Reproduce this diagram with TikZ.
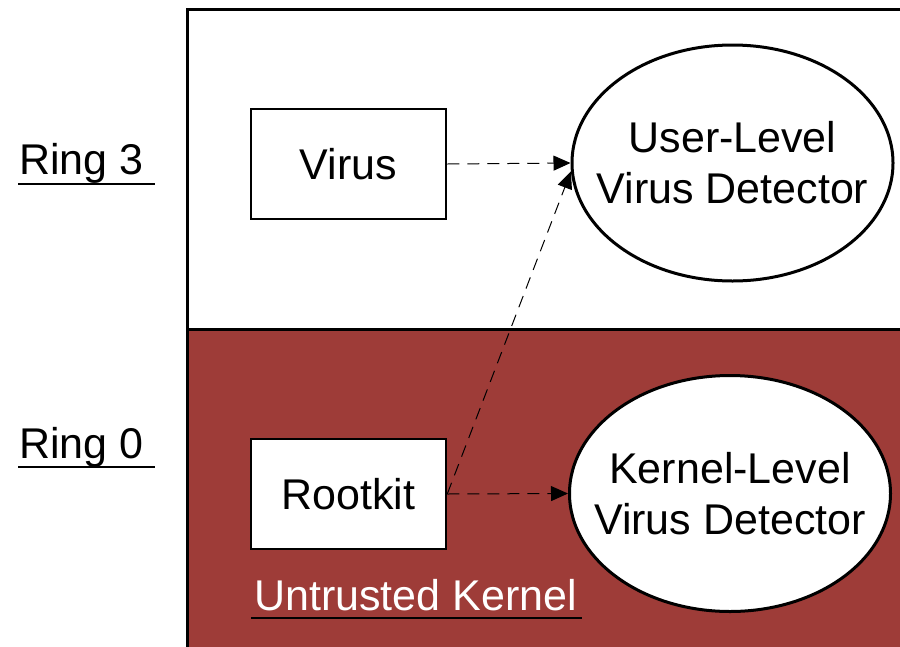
\documentclass[tikz,border=0pt]{standalone}
\usepackage{fontspec}
\setmainfont{Liberation Sans}
\usepackage{xcolor}
\usetikzlibrary{positioning,shapes,arrows.meta}
\definecolor{kernelred}{RGB}{158,60,56}

\begin{document}
\begin{tikzpicture}[x=1pt, y=-1pt, font=\fontsize{43}{51}\selectfont,
		box/.style={draw, line width=2.5pt, fill=white, minimum width=195pt, minimum height=110pt, inner sep=0pt},
		detector/.style={draw, ellipse, line width=3pt, fill=white, minimum width=321pt, minimum height=236pt, align=center, inner xsep=-40pt, inner ysep=0pt},
		ringlabel/.style={anchor=base west, inner sep=0pt},
		flow/.style={dash pattern=on 12pt off 8pt, line width=1pt, -{Triangle[length=17pt,width=15pt]}}]
			\useasboundingbox (0,0) rectangle (900,646);
			% kernel half
			\fill[kernelred] (187,329) rectangle (903,649);
			\draw[line width=3pt] (187,649) -- (187,9) -- (903,9);
			\draw[line width=3pt] (187,329) -- (903,329);
			% rings
			\node[ringlabel] (ring3) at (19,174) {Ring 3};
			\draw[line width=1.5pt] (18,184) -- (155,184);
			\node[ringlabel] (ring0) at (19,458) {Ring 0};
			\draw[line width=1.5pt] (18,467) -- (155,467);
			\node[ringlabel, text=white] (untrusted) at (254,610) {Untrusted Kernel};
			\draw[line width=1.5pt] (251,618) -- (582,618);
			% boxes
			\node[box] (virus) at (348.5,164) {Virus};
			\node[box] (rootkit) at (348.5,494) {Rootkit};
			\node[detector] (userdet) at (732.5,163) {User-Level\\Virus Detector};
			\node[detector] (kerneldet) at (730,493.5) {Kernel-Level\\Virus Detector};
			% flows
			\draw[flow] (virus.east) -- (userdet.west);
			\draw[flow] (rootkit.east) -- (kerneldet.west);
			\draw[flow] (rootkit.east) -- (userdet.183);
		\end{tikzpicture}
\end{document}
